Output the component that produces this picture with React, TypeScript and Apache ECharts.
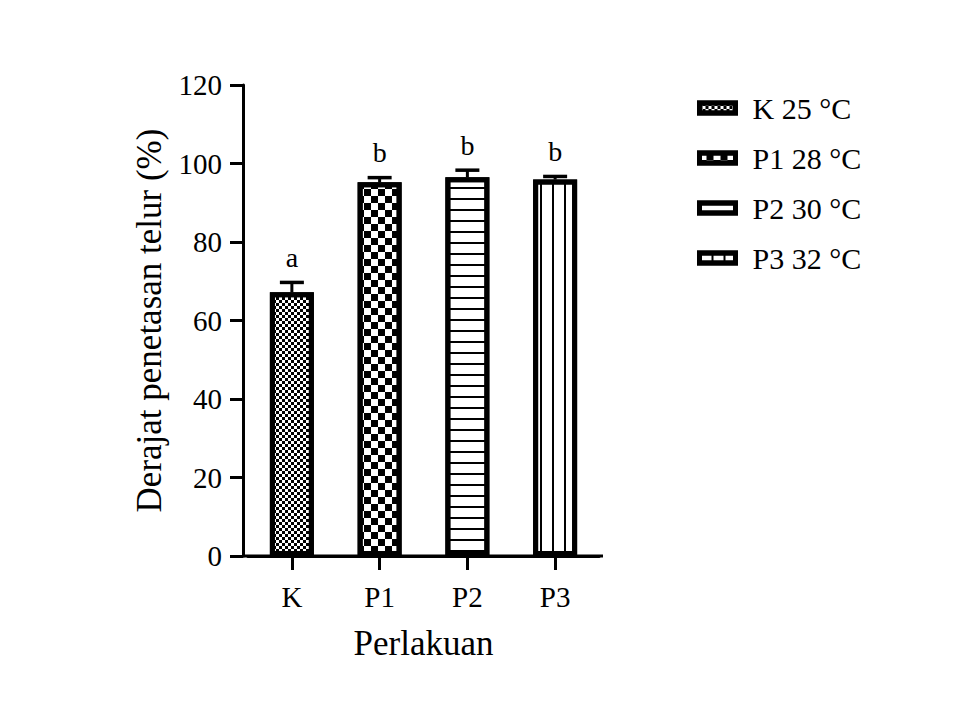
import React, { useEffect, useRef } from "react";
import * as echarts from "echarts";

const categories = ["K", "P1", "P2", "P3"];
const legendNames = ["K 25 °C", "P1 28 °C", "P2 30 °C", "P3 32 °C"];
const means = [67.2, 95.2, 96.5, 95.9];
const errors = [2.5, 1.2, 1.8, 0.8];
const letters = ["a", "b", "b", "b"];
const yTicks = { min: 0, max: 120, interval: 20 };

const FONT = "'Liberation Serif', 'Times New Roman', serif";

const decals: any[] = [
  {
    symbol: "rect",
    symbolSize: 1,
    color: "#000",
    dashArrayX: [[3, 3], [0, 3, 3, 0]],
    dashArrayY: [3, 0],
  },
  {
    symbol: "rect",
    symbolSize: 1,
    color: "#000",
    dashArrayX: [[6.5, 6.5], [0, 6.5, 6.5, 0]],
    dashArrayY: [6.5, 0],
  },
  {
    symbol: "rect",
    symbolSize: 1,
    color: "#000",
    dashArrayX: [11, 0],
    dashArrayY: [2, 9],
  },
  {
    symbol: "rect",
    symbolSize: 1,
    color: "#000",
    dashArrayX: [1.6, 9.2],
    dashArrayY: [11, 0],
  },
];

export default function App() {
  const ref = useRef<HTMLDivElement>(null);
  useEffect(() => {
    if (!ref.current) return;
    const chart = echarts.init(ref.current, undefined, { renderer: "svg" });

    const barSeries = legendNames.map((name, i) => ({
      name,
      type: "bar",
      barWidth: 44,
      barGap: "-100%",
      data: categories.map((_, j) => (j === i ? means[j] : "-")),
      itemStyle: {
        color: "#fff",
        borderColor: "#000",
        borderWidth: 5,
        decal: decals[i],
      },
      z: 2,
    }));

    const errData = categories.map((_, i) => [i, means[i], errors[i]]);

    const option: any = {
      animation: false,
      backgroundColor: "#fff",
      aria: { enabled: false },
      grid: { left: 248, top: 85, width: 351, height: 471, containLabel: false },
      legend: {
        orient: "vertical",
        left: 692,
        top: 88,
        icon: "rect",
        itemWidth: 36,
        itemHeight: 10,
        itemGap: 20,
        data: legendNames,
        selectedMode: false,
        itemStyle: { borderColor: "#000", borderWidth: 5 },
        textStyle: {
          fontFamily: FONT,
          fontSize: 30,
          color: "#000",
          lineHeight: 28,
          padding: [0, 0, 0, 12],
        },
      },
      xAxis: {
        type: "category",
        data: categories,
        name: "Perlakuan",
        nameLocation: "middle",
        nameGap: 70,
        nameTextStyle: { fontFamily: FONT, fontSize: 35, color: "#000" },
        axisLine: { show: true, lineStyle: { color: "#000", width: 3 } },
        axisTick: { show: true, alignWithLabel: true, length: 14, lineStyle: { color: "#000", width: 3 } },
        axisLabel: { fontFamily: FONT, fontSize: 29, color: "#000", margin: 26 },
        splitLine: { show: false },
      },
      yAxis: {
        type: "value",
        min: yTicks.min,
        max: yTicks.max,
        interval: yTicks.interval,
        offset: 5,
        name: "Derajat penetasan telur (%)",
        nameLocation: "middle",
        nameGap: 76,
        nameTextStyle: { fontFamily: FONT, fontSize: 35, color: "#000" },
        axisLine: { show: true, lineStyle: { color: "#000", width: 3 } },
        axisTick: { show: true, length: 13, lineStyle: { color: "#000", width: 3 } },
        axisLabel: { fontFamily: FONT, fontSize: 29, color: "#000", margin: 21 },
        splitLine: { show: false },
      },
      graphic: [
        {
          type: "line",
          shape: { x1: 243, y1: 556, x2: 603, y2: 556 },
          style: { stroke: "#000", lineWidth: 3 },
          z: 10,
        },
      ],
      series: [
        ...barSeries,
        {
          type: "custom",
          name: "err",
          data: errData,
          z: 5,
          renderItem: (params: any, api: any) => {
            const x = api.value(0);
            const m = api.value(1);
            const e = api.value(2);
            const letter = letters[params.dataIndex];
            const base = api.coord([x, m]);
            const top = api.coord([x, m + e]);
            const half = 12;
            return {
              type: "group",
              children: [
                {
                  type: "line",
                  shape: { x1: base[0], y1: base[1], x2: top[0], y2: top[1] },
                  style: { stroke: "#000", lineWidth: 3 },
                },
                {
                  type: "line",
                  shape: { x1: top[0] - half, y1: top[1], x2: top[0] + half, y2: top[1] },
                  style: { stroke: "#000", lineWidth: 3.5 },
                },
                {
                  type: "text",
                  x: top[0],
                  y: top[1] - 11,
                  style: {
                    text: letter,
                    fontFamily: FONT,
                    fontSize: 28,
                    fill: "#000",
                    align: "center",
                    verticalAlign: "bottom",
                  },
                },
              ],
            };
          },
        },
      ],
    };
    chart.setOption(option);
    return () => chart.dispose();
  }, []);

  return (
    <div
      ref={ref}
      style={{ position: "fixed", left: 0, top: 0, width: 960, height: 720, background: "#fff" }}
    />
  );
}
